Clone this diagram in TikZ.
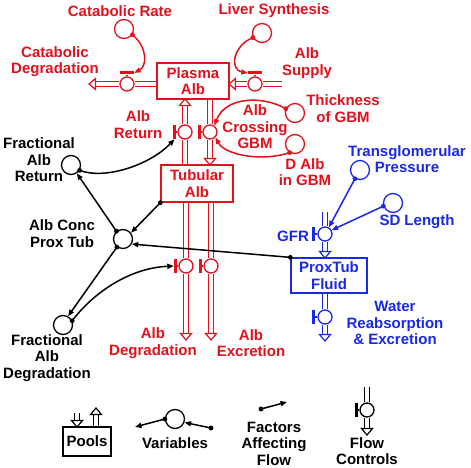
\documentclass[tikz,border=0pt]{standalone}
\usepackage{fontspec}
\setmainfont{Liberation Sans}
\usetikzlibrary{arrows.meta}
\definecolor{sred}{RGB}{228,16,28}
\definecolor{sblue}{RGB}{25,40,235}
\newcommand\condot[1]{\fill #1 circle[radius=2.4pt];}
\begin{document}
\begin{tikzpicture}[x=1pt,y=-1pt,
  txt/.style={font=\fontsize{15}{16.5}\selectfont\bfseries, align=center, inner sep=0pt},
  pool/.style={draw, line width=1.3pt, minimum width=72pt, minimum height=36pt, inner sep=0pt, txt},
  valve/.style={draw, circle, line width=1.3pt, minimum size=14pt, inner sep=0pt},
  var/.style={draw, circle, line width=1.3pt, minimum size=19pt, inner sep=0pt},
  barv/.style={fill, inner sep=0pt, minimum width=3pt, minimum height=14pt},
  barh/.style={fill, inner sep=0pt, minimum width=14pt, minimum height=3pt},
  stem/.style={line width=1.3pt},
  pipe/.style={double=white, double distance=3.5pt, line width=1.2pt},
  conn/.style={line width=1.5pt, -{Triangle[length=6.5pt,width=5pt]}},
  pipetip/.pic={\draw[line width=1.2pt, fill=white, line join=miter] (0,-5.5) -- (6.5,0) -- (0,5.5) -- cycle;}
]
\fill[white] (0,0) rectangle (471,468);
\useasboundingbox (0,0) rectangle (471,468);

%================ RED ================
\begin{scope}[color=sred]
\node[pool] (plasma) at (193,81) {Plasma\\Alb};
\node[pool, minimum height=37pt] (tubular) at (197,183.5) {Tubular\\Alb};

\node[valve] (vCat) at (127,84) {};
\node[barh] (vCatBar) at (127,73) {};
\node[valve] (vSup) at (255,84) {};
\node[barh] (vSupBar) at (255,73) {};
\node[valve] (vRet) at (185,132) {};
\node[barv] (vRetBar) at (174.5,132) {};
\node[valve] (vCross) at (210,132) {};
\node[barv] (vCrossBar) at (199.5,132) {};
\node[valve] (vDeg) at (186,266) {};
\node[barv] (vDegBar) at (175.5,266) {};
\node[valve] (vExc) at (211,266) {};
\node[barv] (vExcBar) at (200.5,266) {};
\foreach \v in {vCat,vSup,vRet,vCross,vDeg,vExc}{\draw[stem] (\v) -- (\v Bar);}

% catabolic degradation
\coordinate (catEnd) at (95.5,84);
\draw[pipe] (plasma.west |- vCat) -- (vCat);
\draw[pipe] (vCat) -- (catEnd);
\pic[rotate=180] at (catEnd) {pipetip};
% supply
\coordinate (supSrc) at (282,84);
\coordinate (supEnd) at (235.5,84);
\draw[pipe] (supSrc) -- (vSup);
\draw[pipe] (vSup) -- (supEnd);
\pic[rotate=180] at (supEnd) {pipetip};
% return
\coordinate (retEnd) at (185,105.5);
\draw[pipe] (tubular.north -| vRet) -- (vRet);
\draw[pipe] (vRet) -- (retEnd);
\pic[rotate=90] at (retEnd) {pipetip};
% crossing
\coordinate (crossEnd) at (210,158.5);
\draw[pipe] (plasma.south -| vCross) -- (vCross);
\draw[pipe] (vCross) -- (crossEnd);
\pic[rotate=-90] at (crossEnd) {pipetip};
% degradation
\coordinate (degEnd) at (186,333.5);
\draw[pipe] (tubular.south -| vDeg) -- (vDeg);
\draw[pipe] (vDeg) -- (degEnd);
\pic[rotate=-90] at (degEnd) {pipetip};
% excretion
\coordinate (excEnd) at (211,333.5);
\draw[pipe] (tubular.south -| vExc) -- (vExc);
\draw[pipe] (vExc) -- (excEnd);
\pic[rotate=-90] at (excEnd) {pipetip};

\node[var] (catRate) at (124,29) {};
\node[var] (liver) at (262,33) {};
\node[var] (thick) at (295,113) {};
\node[var] (dalb) at (295,144) {};
\draw[conn] (catRate.-34) .. controls (148,48) and (147,66) .. (vCatBar.east);
\condot{(catRate.-34)}
\draw[conn] (liver.207) .. controls (232,46) and (230,70) .. (vSupBar.west);
\condot{(liver.207)}
\draw[conn] (thick.155) .. controls (262,95) and (225,97) .. (vCross.55);
\condot{(thick.155)}
\draw[conn] (dalb.-122) .. controls (262,162) and (225,155) .. (vCross.-45);
\condot{(dalb.-122)}

\node[txt] (tCatRate) at (120,11) {Catabolic Rate};
\node[txt] (tCatDeg) at (55,61.5) {Catabolic\\Degradation};
\node[txt] (tLiver) at (274,11) {Liver Synthesis};
\node[txt] (tSupply) at (307,63) {Alb\\Supply};
\node[txt] (tReturn) at (138,124.5) {Alb\\Return};
\node[txt] (tCross) at (255,127) {Alb\\Crossing\\GBM};
\node[txt] (tThick) at (343,108.5) {Thickness\\of GBM};
\node[txt] (tDalb) at (305,172) {D Alb\\in GBM};
\node[txt] (tDeg) at (153,343) {Alb\\Degradation};
\node[txt] (tExc) at (251,343) {Alb\\Excretion};
\end{scope}

%================ BLUE ================
\begin{scope}[color=sblue]
\node[pool, minimum width=76pt, minimum height=35pt] (proxtub) at (329,275.5) {ProxTub\\Fluid};
\node[valve] (vGFR) at (325,234) {};
\node[barv] (vGFRBar) at (313.5,234) {};
\node[valve] (vWat) at (325,317) {};
\node[barv] (vWatBar) at (313.5,317) {};
\draw[stem] (vGFR) -- (vGFRBar);
\draw[stem] (vWat) -- (vWatBar);
\coordinate (gfrSrc) at (325,212);
\coordinate (gfrEnd) at (325,251.5);
\draw[pipe] (gfrSrc) -- (vGFR);
\draw[pipe] (vGFR) -- (gfrEnd);
\pic[rotate=-90] at (gfrEnd) {pipetip};
\coordinate (watEnd) at (325,334.5);
\draw[pipe] (proxtub.south -| vWat) -- (vWat);
\draw[pipe] (vWat) -- (watEnd);
\pic[rotate=-90] at (watEnd) {pipetip};

\node[var] (tgp) at (360,170) {};
\node[var] (sdl) at (393,203) {};
\draw[conn] (tgp.-120) -- (vGFR.60);
\condot{(tgp.-120)}
\draw[conn] (sdl.198) -- (vGFR.30);
\condot{(sdl.198)}

\node[txt] (tTgp) at (407,159) {Transglomerular\\Pressure};
\node[txt] (tSd) at (417,222) {SD Length};
\node[txt] (tGfr) at (293,236) {GFR};
\node[txt] (tWat) at (395,323) {Water\\Reabsorption\\\& Excretion};
\end{scope}

%================ BLACK ================
\node[var] (far) at (71,165) {};
\node[var] (ac) at (123,239) {};
\node[var] (fad) at (63,325) {};
\draw[conn] (far.-32) .. controls (105,180) and (150,165) .. (vRetBar.south);
\condot{(far.-32)}
\draw[conn] (ac.130) -- (far.-55);
\condot{(ac.130)}
\draw[conn] (tubular.south west) -- (ac.38);
\condot{(tubular.south west)}
\draw[conn] (proxtub.north west) -- (ac.-30);
\condot{(proxtub.north west)}
\draw[conn] (ac.-127) -- (fad.60);
\condot{(ac.-127)}
\draw[conn] (fad.25) .. controls (94,292) and (130,268) .. (vDegBar.west);
\condot{(fad.25)}

\node[txt] (tFar) at (39,160) {Fractional\\Alb\\Return};
\node[txt] (tAc) at (62,233.5) {Alb Conc\\Prox Tub};
\node[txt] (tFad) at (47,358) {Fractional\\Alb\\Degradation};

% legend
\node[pool, minimum width=48pt, minimum height=29pt] (poolsLeg) at (87,441.5) {Pools};
\coordinate (pInTop) at (77,413);
\coordinate (pInEnd) at (77,420.5);
\draw[pipe] (pInTop) -- (pInEnd);
\pic[rotate=-90] at (pInEnd) {pipetip};
\coordinate (pOutEnd) at (96,414.5);
\draw[pipe] (poolsLeg.north -| pOutEnd) -- (pOutEnd);
\pic[rotate=90] at (pOutEnd) {pipetip};

\node[var] (varLeg) at (175,419) {};
\coordinate (varOut) at (135,427);
\coordinate (varIn) at (211,428);
\draw[conn] (varLeg.180) -- (varOut);
\condot{(varLeg.180)}
\draw[conn] (varIn) -- (varLeg.-20);
\condot{(varIn)}
\node[txt] (tVar) at (175,443) {Variables};

\coordinate (fA) at (261,409);
\coordinate (fB) at (287,402);
\draw[conn] (fA) -- (fB);
\condot{(fA)}
\node[txt] (tFac) at (274,443.5) {Factors\\Affecting\\Flow};

\node[valve] (fcv) at (367,410) {};
\node[barv] (fcBar) at (356,410) {};
\draw[stem] (fcv) -- (fcBar);
\coordinate (fcTop) at (367,387);
\coordinate (fcEnd) at (367,428.5);
\draw[pipe] (fcTop) -- (fcv);
\draw[pipe] (fcv) -- (fcEnd);
\pic[rotate=-90] at (fcEnd) {pipetip};
\node[txt] (tFc) at (367,451) {Flow\\Controls};
\end{tikzpicture}
\end{document}
